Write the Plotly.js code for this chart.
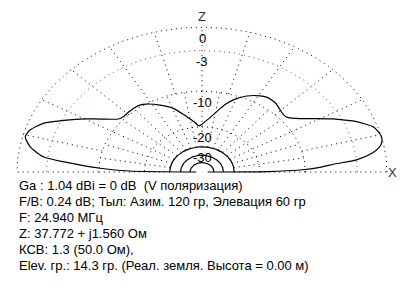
<!DOCTYPE html>
<html>
<head>
<meta charset="utf-8">
<script src="https://cdn.plot.ly/plotly-3.0.1.min.js"></script>
<style>html,body{margin:0;padding:0;background:#fff;}#chart{width:414px;height:299px;}</style>
</head>
<body>
<div id="chart"></div>
<script>
// Elevation pattern (degrees above horizon, dB relative to max)
const elevAngles = [0, 0.5, 1.5, 3, 4.3, 5.7, 8, 10, 12, 14.3, 17, 18.7, 22.6, 25, 27.3, 31, 34.8, 39.3, 42, 45.5, 50, 52.9, 56, 59.2, 65.3, 71.2, 75, 79.2, 85, 90, 93, 97, 102.2, 109.4, 116.1, 122.5, 126, 130.2, 134, 138.1, 141, 146.4, 150, 153.9, 158.6, 162.7, 165.7, 169.3, 173, 174.8, 177.3, 179, 180];
const elevGainDb = [-60, -18, -10.9, -7.5, -5.8, -3.0, -1.3, -0.5, -0.1, 0, -0.2, -0.4, -1.7, -2.8, -3.85, -5.7, -7.5, -8.9, -9.0, -8.7, -8.2, -8.1, -8.1, -8.4, -9.4, -11.0, -12.5, -14.7, -17.3, -19.0, -19.6, -18.0, -16.1, -13.1, -11.4, -10.05, -9.6, -9.5, -9.55, -9.6, -9.3, -7.1, -5.3, -3.5, -1.4, -0.45, -0.24, -0.95, -2.5, -5.3, -10.2, -16, -60];

// Grid levels and labels
const dottedRingsDb = [0, -10, -20];
const redRingDb = [-3];
const solidRingsDb = [-30, -37, -47];
const ringLabelDb = [0, -3, -10, -20, -30];
const ringLabels = ["0", "-3", "-10", "-20", "-30"];
const infoLines = [
  "Ga : 1.04 dBi = 0 dB\u00a0\u00a0(V поляризация)",
  "F/B: 0.24 dB; Тыл: Азим. 120 гр, Элевация 60 гр",
  "F: 24.940 МГц",
  "Z: 37.772 + j1.560 Ом",
  "КСВ: 1.3 (50.0 Ом),",
  "Elev. гр.: 14.3 гр. (Реал. земля. Высота = 0.00 м)"
];

// ARRL log scale: radius factor 0.89 per 2 dB
function rad(db){ return Math.pow(0.89, -db/2); }
function ring(db){
  const xs=[], ys=[];
  for(let a=0;a<=180;a+=1){ const r=rad(db); xs.push(r*Math.cos(a*Math.PI/180)); ys.push(r*Math.sin(a*Math.PI/180)); }
  return {x:xs,y:ys};
}
const traces=[];
const dotStyle={color:'#000',width:1,dash:'1px,4px'};
// radial lines
for(let a=0;a<=180;a+=10){
  const r0=rad(-30), r1=rad(-10);
  const c=Math.cos(a*Math.PI/180), s=Math.sin(a*Math.PI/180);
  traces.push({x:[r0*c,r1*c],y:[r0*s,r1*s],mode:'lines',line:dotStyle,hoverinfo:'skip'});
}
for(let a=0;a<=180;a+=15){
  const r0=rad(-10), r1=rad(0);
  const c=Math.cos(a*Math.PI/180), s=Math.sin(a*Math.PI/180);
  traces.push({x:[r0*c,r1*c],y:[r0*s,r1*s],mode:'lines',line:dotStyle,hoverinfo:'skip'});
}
dottedRingsDb.forEach(db=>{ const p=ring(db); traces.push({x:p.x,y:p.y,mode:'lines',line:dotStyle,hoverinfo:'skip'}); });
redRingDb.forEach(db=>{ const p=ring(db); traces.push({x:p.x,y:p.y,mode:'lines',line:{color:'#c03030',width:1,dash:'1px,4px'},hoverinfo:'skip'}); });
solidRingsDb.forEach(db=>{ const p=ring(db); traces.push({x:p.x,y:p.y,mode:'lines',line:{color:'#000',width:1.2},hoverinfo:'skip'}); });
// pattern
const px=[], py=[];
elevAngles.forEach((a,i)=>{ const r=rad(elevGainDb[i]); px.push(r*Math.cos(a*Math.PI/180)); py.push(r*Math.sin(a*Math.PI/180)); });
traces.push({x:px,y:py,mode:'lines',line:{color:'#000',width:1.2,shape:'spline',smoothing:0.6},hoverinfo:'skip'});

const annotations=[];
ringLabelDb.forEach((db,i)=>{
  annotations.push({x:0,y:rad(db),xref:'x',yref:'y',text:ringLabels[i],showarrow:false,yshift:-11,xanchor:'center',yanchor:'middle',font:{family:'Liberation Sans, Arial',size:13,color:'#000'}});
});
annotations.push({x:0,y:rad(0),xref:'x',yref:'y',text:'Z',showarrow:false,yshift:11,xanchor:'center',yanchor:'middle',font:{family:'Liberation Sans, Arial',size:13,color:'#333'}});
annotations.push({x:rad(0),y:0,xref:'x',yref:'y',text:'X',showarrow:false,xshift:5,xanchor:'center',yanchor:'middle',font:{family:'Liberation Sans, Arial',size:13,color:'#333'}});
infoLines.forEach((t,i)=>{
  annotations.push({x:17/414,y:1-(185+16*i)/299,xref:'paper',yref:'paper',text:t,showarrow:false,xanchor:'left',yanchor:'middle',font:{family:'Liberation Sans, Arial',size:13,color:'#000'}});
});

const layout={
  width:414,height:299,margin:{l:0,r:0,t:0,b:0},
  paper_bgcolor:'#fff',plot_bgcolor:'#fff',showlegend:false,hovermode:false,
  xaxis:{range:[-202/185, 212/185],visible:false,showgrid:false,zeroline:false,fixedrange:true},
  yaxis:{range:[-127/144.7, 172/144.7],visible:false,showgrid:false,zeroline:false,fixedrange:true},
  annotations:annotations
};
Plotly.newPlot('chart',traces,layout,{displayModeBar:false,staticPlot:true});
</script>
</body>
</html>
